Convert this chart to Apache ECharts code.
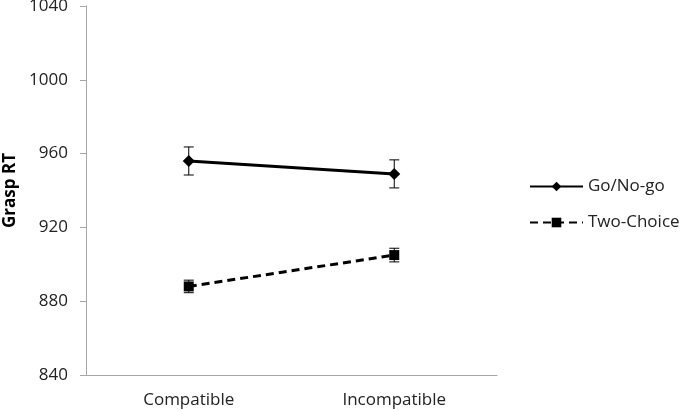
<!DOCTYPE html>
<html>
<head>
<meta charset="utf-8">
<script src="https://cdn.jsdelivr.net/npm/echarts@6/dist/echarts.min.js"></script>
<style>
  html, body { margin: 0; padding: 0; background: #fff; }
  #chart { width: 685px; height: 411px; }
</style>
</head>
<body>
<div id="chart"></div>
<script>
const categories = ['Compatible', 'Incompatible'];
const goNoGo = [956, 949];
const goNoGoErr = [7.6, 7.6];
const twoChoice = [888, 905];
const twoChoiceErr = [3.4, 3.7];
const yTicks = { min: 840, max: 1040, interval: 40 };

const font = 'Open Sans';

// error bar custom series: [categoryIndex, low, high]
function errorBars(values, errs) {
  return values.map((v, i) => [i, v - errs[i], v + errs[i]]);
}

function renderErrorBar(params, api) {
  const x = api.value(0);
  const lo = api.coord([x, api.value(1)]);
  const hi = api.coord([x, api.value(2)]);
  const half = 5;
  const style = { stroke: '#000', lineWidth: 1 };
  return {
    type: 'group',
    children: [
      { type: 'line', shape: { x1: hi[0], y1: hi[1], x2: lo[0], y2: lo[1] }, style },
      { type: 'line', shape: { x1: hi[0] - half, y1: hi[1], x2: hi[0] + half, y2: hi[1] }, style },
      { type: 'line', shape: { x1: lo[0] - half, y1: lo[1], x2: lo[0] + half, y2: lo[1] }, style },
    ],
  };
}

const chart = echarts.init(document.getElementById('chart'));
chart.setOption({
  animation: false,
  textStyle: { fontFamily: font },
  grid: { left: 86, right: 188, top: 6, bottom: 36, outerBoundsMode: 'none' },
  legend: {
    orient: 'vertical',
    left: 529,
    top: 178,
    padding: 0,
    itemWidth: 53,
    itemHeight: 12,
    itemGap: 19,
    textStyle: { fontFamily: font, fontSize: 17, lineHeight: 17, color: '#222' },
    data: ['Go/No-go', 'Two-Choice'],
  },
  xAxis: {
    type: 'category',
    data: categories,
    boundaryGap: true,
    axisLine: { lineStyle: { color: '#a6a6a6', width: 1 } },
    axisTick: { show: false },
    axisLabel: { fontFamily: font, fontSize: 17, color: '#222', margin: 17 },
  },
  yAxis: {
    type: 'value',
    min: yTicks.min,
    max: yTicks.max,
    interval: yTicks.interval,
    name: 'Grasp RT',
    nameLocation: 'middle',
    nameGap: 66,
    nameTextStyle: { fontFamily: font, fontSize: 17, fontWeight: 'bold', color: '#000' },
    axisLine: { show: true, lineStyle: { color: '#a6a6a6', width: 1 } },
    axisTick: { show: true, length: 6, lineStyle: { color: '#a6a6a6' } },
    axisLabel: { fontFamily: font, fontSize: 17, color: '#222', margin: 18, formatter: v => String(v) },
    splitLine: { show: false },
  },
  series: [
    {
      name: 'Go/No-go',
      type: 'line',
      data: goNoGo,
      symbol: 'diamond',
      symbolSize: 12,
      lineStyle: { color: '#000', width: 3 },
      itemStyle: { color: '#000' },
      z: 3,
    },
    {
      name: 'Two-Choice',
      type: 'line',
      data: twoChoice,
      symbol: 'rect',
      symbolSize: 10,
      lineStyle: { color: '#000', width: 3, type: [8, 5] },
      itemStyle: { color: '#000' },
      z: 3,
    },
    {
      type: 'custom',
      renderItem: renderErrorBar,
      data: errorBars(goNoGo, goNoGoErr),
      z: 4,
    },
    {
      type: 'custom',
      renderItem: renderErrorBar,
      data: errorBars(twoChoice, twoChoiceErr),
      z: 4,
    },
  ],
});
</script>
</body>
</html>
